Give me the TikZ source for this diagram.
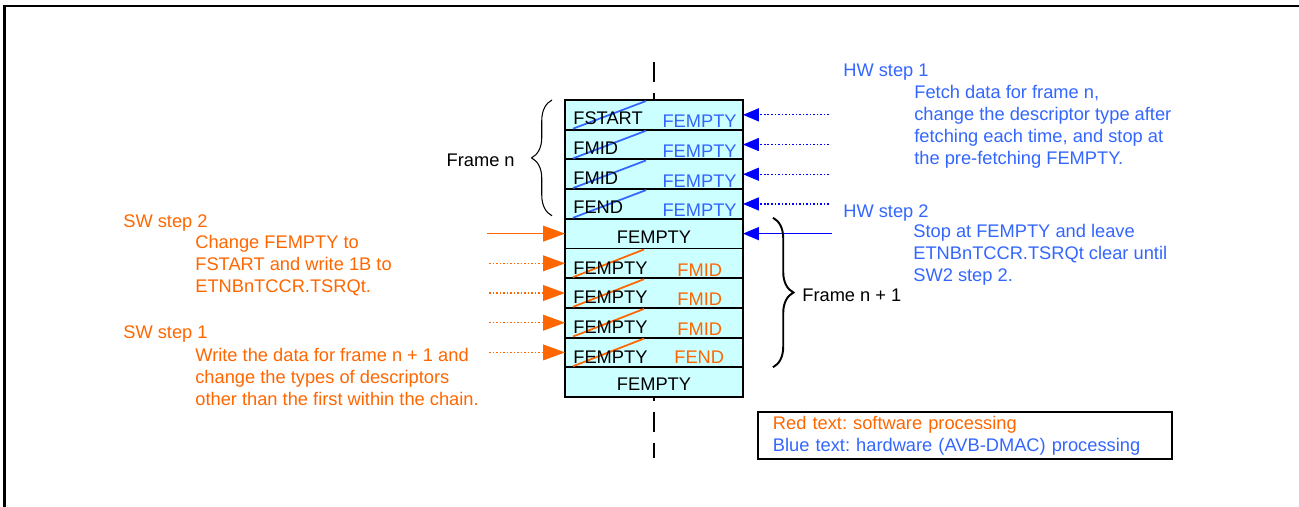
\documentclass[tikz,border=0pt]{standalone}
\usepackage{fontspec}
\setmainfont{Liberation Sans}
\frenchspacing
\usetikzlibrary{arrows.meta,positioning,calc,decorations.pathreplacing}
\definecolor{hwBlue}{HTML}{3366FF}
\definecolor{arrBlue}{HTML}{0000FF}
\definecolor{swOrange}{HTML}{FF6600}
\definecolor{cellCyan}{HTML}{CCFFFF}

\begin{document}
\begin{tikzpicture}[x=0.02cm,y=-0.02cm,
  cell/.style={rectangle,draw,line width=1.1pt,fill=cellCyan,minimum width=3.56cm,minimum height=0.594cm,inner sep=0pt,outer sep=0pt},
  lbl/.style={inner sep=0pt,anchor=base west},
  txt/.style={inner sep=0pt,anchor=north west,align=left},
  hw/.style={text=hwBlue},
  sw/.style={text=swOrange},
  hwstrike/.style={draw=hwBlue,line width=1pt},
  swstrike/.style={draw=swOrange,line width=1pt},
  hwfetch/.style={draw=arrBlue,line width=0.7pt,dash pattern=on 1pt off 1pt,-{Triangle[length=9pt,width=7.4pt]}},
  hwstop/.style={draw=arrBlue,line width=0.7pt,-{Triangle[length=9pt,width=7.4pt]}},
  swwrite/.style={draw=swOrange,line width=0.7pt,dash pattern=on 1pt off 1pt,-{Triangle[length=12.5pt,width=9pt]}},
  swstart/.style={draw=swOrange,line width=0.7pt,-{Triangle[length=12.5pt,width=9pt]}},
  brace/.style={decorate,decoration={brace,amplitude=0.41cm}},
  every node/.style={font=\fontsize{10.4pt}{12.5pt}\selectfont}
]
  \useasboundingbox (0,0) rectangle (1299,507);
  \draw[line width=1.15pt] (1299,6) -- (4.5,6) -- (4.5,507);

  % descriptor chain
  \node[cell] (r1) at (654,114.85) {};
  \node[cell,below=0pt of r1] (r2) {};
  \node[cell,below=0pt of r2] (r3) {};
  \node[cell,below=0pt of r3] (r4) {};
  \node[cell,below=0pt of r4] (r5) {};
  \node[cell,below=0pt of r5] (r6) {};
  \node[cell,below=0pt of r6] (r7) {};
  \node[cell,below=0pt of r7] (r8) {};
  \node[cell,below=0pt of r8] (r9) {};
  \node[cell,below=0pt of r9] (r10) {};

  \coordinate (axtop) at (654,62);
  \coordinate (axbot) at (654,458);
  \draw[line width=1.1pt,dash pattern=on 0.4cm off 0.22cm] (axtop) -- (r1.north);
  \draw[line width=1.1pt,dash pattern=on 0.4cm off 0.22cm,dash phase=0.32cm] (r10.south) -- (axbot);

  % frame n: fetched by HW
  \draw[hwstrike] ($(r1.south west)+(8,-1)$) -- ($(r1.north west)+(81,1)$);
  \draw[hwstrike] ($(r2.south west)+(8,-1)$) -- ($(r2.north west)+(81,1)$);
  \draw[hwstrike] ($(r3.south west)+(8,-1)$) -- ($(r3.north west)+(81,1)$);
  \draw[hwstrike] ($(r4.south west)+(8,-1)$) -- ($(r4.north west)+(81,1)$);
  \node[lbl] (t1) at ($(r1.south west)+(8,-5)$) {FSTART};
  \node[lbl] (t2) at ($(r2.south west)+(8,-5)$) {FMID};
  \node[lbl] (t3) at ($(r3.south west)+(8,-5)$) {FMID};
  \node[lbl] (t4) at ($(r4.south west)+(8,-5)$) {FEND};
  \node[lbl,hw,anchor=base east] (u1) at ($(r1.south east)+(-6,-2)$) {FEMPTY};
  \node[lbl,hw,anchor=base east] (u2) at ($(r2.south east)+(-6,-2)$) {FEMPTY};
  \node[lbl,hw,anchor=base east] (u3) at ($(r3.south east)+(-6,-2)$) {FEMPTY};
  \node[lbl,hw,anchor=base east] (u4) at ($(r4.south east)+(-6,-2)$) {FEMPTY};
  \node[lbl,anchor=base] (t5) at ($(r5.south)+(0,-5)$) {FEMPTY};

  % frame n + 1: written by SW
  \draw[swstrike] ($(r6.south west)+(8,-1)$) -- ($(r6.north west)+(79,1)$);
  \draw[swstrike] ($(r7.south west)+(8,-1)$) -- ($(r7.north west)+(79,1)$);
  \draw[swstrike] ($(r8.south west)+(8,-1)$) -- ($(r8.north west)+(79,1)$);
  \draw[swstrike] ($(r9.south west)+(8,-1)$) -- ($(r9.north west)+(79,1)$);
  \node[lbl] (t6) at ($(r6.south west)+(8,-4)$) {FEMPTY};
  \node[lbl] (t7) at ($(r7.south west)+(8,-4)$) {FEMPTY};
  \node[lbl] (t8) at ($(r8.south west)+(8,-4)$) {FEMPTY};
  \node[lbl] (t9) at ($(r9.south west)+(8,-4)$) {FEMPTY};
  \node[lbl,sw] (u6) at ($(r6.south west)+(112,-2)$) {FMID};
  \node[lbl,sw] (u7) at ($(r7.south west)+(112,-2)$) {FMID};
  \node[lbl,sw] (u8) at ($(r8.south west)+(112,-2)$) {FMID};
  \node[lbl,sw] (u9) at ($(r9.south west)+(109,-4)$) {FEND};
  \node[lbl,anchor=base] (t10) at ($(r10.south)+(0,-6)$) {FEMPTY};

  % HW arrows
  \coordinate (h1) at ($(r1.east)+(86,0)$);
  \coordinate (h2) at ($(r2.east)+(86,0)$);
  \coordinate (h3) at ($(r3.east)+(86,0)$);
  \coordinate (h4) at ($(r4.east)+(86,0)$);
  \coordinate (h5) at ($(r5.east)+(89,0)$);
  \draw[hwfetch] (h1) -- (r1.east);
  \draw[hwfetch] (h2) -- (r2.east);
  \draw[hwfetch] (h3) -- (r3.east);
  \draw[hwfetch] (h4) -- (r4.east);
  \draw[hwstop] (h5) -- (r5.east);

  % SW arrows
  \coordinate (s5) at ($(r5.west)+(-78,0)$);
  \coordinate (s6) at ($(r6.west)+(-76,0)$);
  \coordinate (s7) at ($(r7.west)+(-76,0)$);
  \coordinate (s8) at ($(r8.west)+(-76,0)$);
  \coordinate (s9) at ($(r9.west)+(-76,0)$);
  \draw[swstart] (s5) -- (r5.west);
  \draw[swwrite] (s6) -- (r6.west);
  \draw[swwrite] (s7) -- (r7.west);
  \draw[swwrite] (s8) -- (r8.west);
  \draw[swwrite] (s9) -- (r9.west);

  % frames
  \draw[brace,line width=0.6pt] ($(r4.south west)+(-13,-3)$) -- ($(r1.north west)+(-13,0)$);
  \node[lbl,anchor=east] (fn) at (515,160) {Frame n};
  \draw[brace,line width=1.1pt] ($(r5.north east)+(30,-1)$) -- ($(r9.south east)+(30,0)$);
  \node[lbl,anchor=west] (fn1) at (802,295) {Frame n + 1};

  % step notes
  \node[lbl,hw] (hw1) at (843,76) {HW step 1};
  \node[txt,hw] (hw1b) at (914,85) {Fetch data for frame n,\\change the descriptor type after\\fetching each time, and stop at\\the pre-fetching FEMPTY.};
  \node[lbl,hw] (hw2) at (843,217) {HW step 2};
  \node[txt,hw] (hw2b) at (913,224) {Stop at FEMPTY and leave\\ETNBnTCCR.TSRQt clear until\\SW2 step 2.};
  \node[lbl,sw] (sw2) at (123,227) {SW step 2};
  \node[txt,sw] (sw2b) at (195,235) {Change FEMPTY to\\FSTART and write 1B to\\ETNBnTCCR.TSRQt.};
  \node[lbl,sw] (sw1) at (123,338) {SW step 1};
  \node[txt,sw] (sw1b) at (195,348) {Write the data for frame n + 1 and\\change the types of descriptors\\other than the first within the chain.};

  % legend
  \node[draw,line width=1.1pt,anchor=north west,minimum width=8.28cm,minimum height=0.94cm,text width=7.68cm,inner xsep=0.3cm,inner ysep=0pt,align=left] (legend) at (757,411)
    {\textcolor{swOrange}{Red text: software processing}\\\textcolor{hwBlue}{Blue text: hardware (AVB-DMAC) processing}};
\end{tikzpicture}
\end{document}
